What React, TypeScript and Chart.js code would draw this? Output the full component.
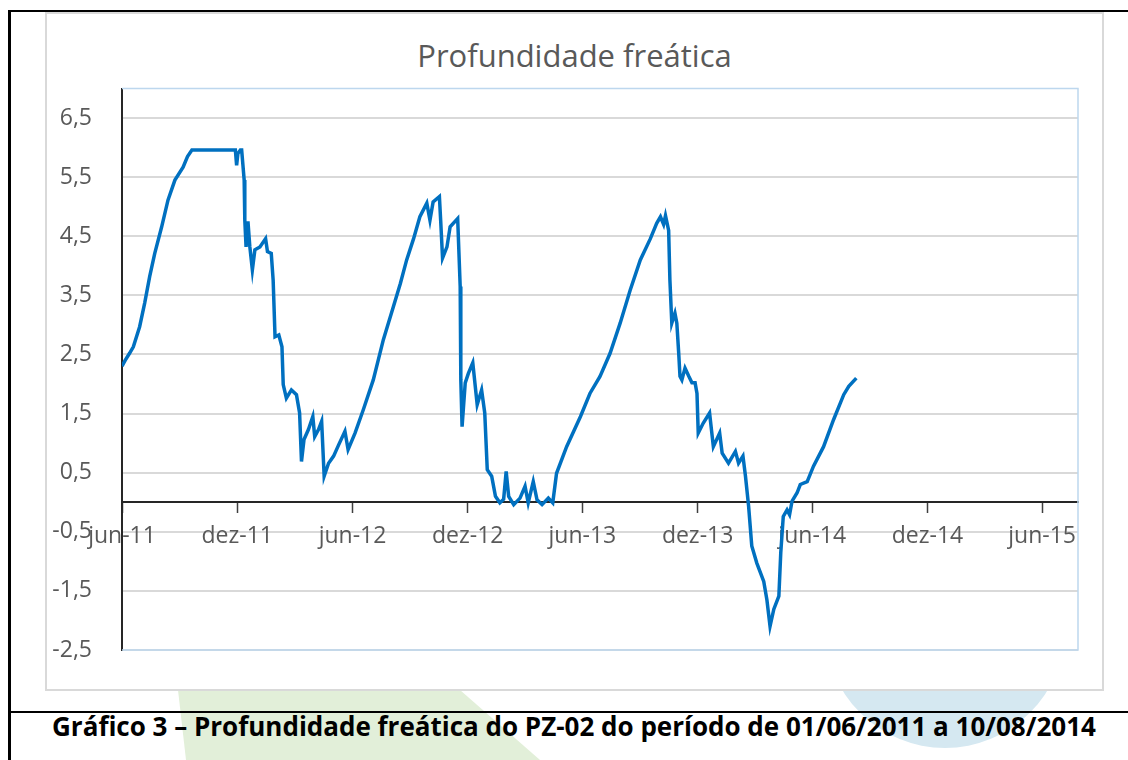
import React, { useEffect, useRef } from 'react';
import { Chart, registerables } from 'chart.js';

Chart.register(...registerables);

// Days counted from 01/06/2011
const startDate = '2011-06-01';
const days = [
  0, 5, 12, 18, 28, 36, 44, 52, 63, 73, 84, 97, 104, 111, 180, 182, 184, 188, 190,
  194, 195, 197, 200, 203, 207, 211, 219, 228, 231, 237, 240, 243, 249, 254, 256,
  261, 269, 277, 282, 285, 289, 296, 303, 306, 312, 317, 321, 328, 336, 344, 354,
  359, 370, 383, 399, 415, 431, 442, 452, 463, 473, 484, 489, 494, 504, 506, 509,
  516, 521, 533, 537, 538, 540, 545, 550, 557, 564, 571, 576, 580, 587, 593, 600,
  606, 610, 614, 622, 632, 640, 645, 653, 659, 667, 677, 684, 690, 706, 728, 743,
  759, 775, 791, 807, 823, 839, 849, 855, 860, 863, 868, 870, 873, 878, 881, 884,
  886, 889, 894, 900, 905, 910, 913, 915, 923, 933, 939, 949, 953, 963, 974, 979,
  986, 990, 995, 1000, 1008, 1019, 1024, 1029, 1035, 1043, 1046, 1050, 1056, 1060,
  1064, 1072, 1077, 1088, 1098, 1114, 1130, 1146, 1154, 1166,
];
const depth = [
  2.3, 2.4, 2.52, 2.63, 2.97, 3.37, 3.82, 4.21, 4.66, 5.11, 5.45, 5.67, 5.85, 5.96, 5.96, 5.7, 5.9, 5.96, 5.96,
  5.45, 4.77, 4.32, 4.75, 4.32, 3.93, 4.27, 4.32, 4.46, 4.24, 4.21, 3.76, 2.8, 2.83, 2.63, 1.99,
  1.76, 1.9, 1.82, 1.51, 0.69, 1.06, 1.23, 1.45, 1.11, 1.23, 1.37, 0.44, 0.66, 0.78, 0.97, 1.2,
  0.89, 1.17, 1.56, 2.07, 2.75, 3.31, 3.7, 4.1, 4.46, 4.83, 5.06, 4.77, 5.08, 5.17, 4.77, 4.13,
  4.32, 4.66, 4.8, 3.65, 2.07, 1.28, 2.02, 2.18, 2.36, 1.65, 1.9, 1.51, 0.55, 0.44, 0.1, -0.01,
  0.05, 0.52, 0.1, -0.04, 0.07, 0.27, -0.01, 0.35, 0.04, -0.04, 0.07, -0.01, 0.49, 0.94, 1.45, 1.84,
  2.13, 2.52, 3.03, 3.59, 4.1, 4.46, 4.72, 4.83, 4.7, 4.85, 4.6, 3.76, 3.03, 3.2, 3.03, 2.52,
  2.13, 2.07, 2.27, 2.13, 2.02, 2.02, 1.84, 1.17, 1.34, 1.51, 0.94, 1.17, 0.83, 0.66, 0.86, 0.66,
  0.78, 0.44, -0.07, -0.74, -1.03, -1.34, -1.65, -2.1, -1.81, -1.59, -0.86, -0.24, -0.13, -0.21,
  0.02, 0.16, 0.3, 0.35, 0.61, 0.94, 1.4, 1.82, 1.96, 2.1,
];

const xTickDates = [
  '2011-06-01', '2011-12-01', '2012-06-01', '2012-12-01', '2013-06-01',
  '2013-12-01', '2014-06-01', '2014-12-01', '2015-06-01',
];
const xTickLabels = [
  'jun-11', 'dez-11', 'jun-12', 'dez-12', 'jun-13', 'dez-13', 'jun-14', 'dez-14', 'jun-15',
];
const xMaxDays = 1518;
const yTicks = [-2.5, -1.5, -0.5, 0.5, 1.5, 2.5, 3.5, 4.5, 5.5, 6.5];
const yMin = -2.5;
const yMax = 7;

const chartTitle = 'Profundidade freática';
const caption = 'Gráfico 3 – Profundidade freática do PZ-02 do período de 01/06/2011 a 10/08/2014';

const dayOf = (s: string) => {
  const [a, b, c] = s.split('-').map(Number);
  const [sa, sb, sc] = startDate.split('-').map(Number);
  return Math.round((Date.UTC(a, b - 1, c) - Date.UTC(sa, sb - 1, sc)) / 86400000);
};
const xTickDays = xTickDates.map(dayOf);

const plotBorder = {
  id: 'plotBorder',
  beforeDatasetsDraw(chart: any) {
    const { ctx, chartArea: a } = chart;
    ctx.save();
    ctx.strokeStyle = '#bdd7ee';
    ctx.lineWidth = 1.5;
    ctx.beginPath();
    ctx.moveTo(a.left, a.top);
    ctx.lineTo(a.right, a.top);
    ctx.lineTo(a.right, a.bottom);
    ctx.lineTo(a.left, a.bottom);
    ctx.stroke();
    ctx.restore();
  },
};

export default function App() {
  const ref = useRef<HTMLCanvasElement | null>(null);

  useEffect(() => {
    if (!ref.current) return;
    const tickFont = { family: "'Open Sans'", size: 23 };
    const chart = new Chart(ref.current, {
      type: 'line',
      data: {
        datasets: [
          {
            data: days.map((d, i) => ({ x: d, y: depth[i] })),
            borderColor: '#0070C0',
            borderWidth: 3.5,
            pointRadius: 0,
            tension: 0,
            fill: false,
          },
        ],
      },
      options: {
        responsive: false,
        animation: false,
        devicePixelRatio: 1,
        layout: { padding: { left: 45, right: 50, top: 88.5, bottom: 110 } },
        plugins: {
          legend: { display: false },
          tooltip: { enabled: false },
          title: { display: false },
        },
        scales: {
          x: {
            type: 'linear',
            min: 0,
            max: xMaxDays,
            position: { y: 0 } as any,
            afterFit(s: any) {
              s.height = 0;
            },
            afterBuildTicks(s: any) {
              s.ticks = xTickDays.map((v) => ({ value: v }));
            },
            ticks: {
              autoSkip: false,
              maxRotation: 0,
              color: '#595959',
              font: tickFont,
              padding: 10.5,
              callback: (v: any) => {
                const i = xTickDays.indexOf(Number(v));
                return i >= 0 ? xTickLabels[i] : '';
              },
            },
            grid: {
              drawOnChartArea: false,
              drawTicks: true,
              tickLength: 10,
              tickColor: '#404040',
              tickWidth: 1.5,
            },
            border: { display: true, color: '#262626', width: 2 },
          },
          y: {
            min: yMin,
            max: yMax,
            afterFit(s: any) {
              s.width = 77;
            },
            afterBuildTicks(s: any) {
              s.ticks = yTicks.map((v) => ({ value: v }));
            },
            ticks: {
              color: '#595959',
              font: tickFont,
              padding: 30,
              callback: (v: any) => String(v).replace('.', ','),
            },
            grid: { color: '#d9d9d9', lineWidth: 2, drawTicks: false },
            border: { display: true, color: '#262626', width: 2 },
          },
        },
      },
      plugins: [plotBorder],
    });
    return () => chart.destroy();
  }, []);

  return (
    <div
      style={{
        position: 'absolute',
        left: 0,
        top: 0,
        width: 1128,
        height: 760,
        overflow: 'hidden',
        background: '#fff',
      }}
    >
      <div
        style={{
          position: 'absolute',
          left: 0,
          top: 0,
          width: 1128,
          height: 760,
          background: '#e2efd9',
          clipPath: 'polygon(178px 690px, 460px 690px, 540px 760px, 186px 760px)',
        }}
      />
      <div
        style={{
          position: 'absolute',
          left: 825,
          top: 508,
          width: 240,
          height: 240,
          borderRadius: '50%',
          background: '#d5e8f1',
        }}
      />
      <div
        style={{
          position: 'absolute',
          left: 45,
          top: 12,
          width: 1059,
          height: 679,
          boxSizing: 'border-box',
          border: '2px solid #d9d9d9',
          background: '#fff',
        }}
      />
      <div style={{ position: 'absolute', left: 8, top: 10, width: 1120, height: 2, background: '#000' }} />
      <div style={{ position: 'absolute', left: 8, top: 10, width: 2.5, height: 750, background: '#000' }} />
      <div style={{ position: 'absolute', left: 8, top: 711, width: 1120, height: 2, background: '#000' }} />
      <div
        style={{
          position: 'absolute',
          left: 0,
          top: 40,
          width: 1149,
          textAlign: 'center',
          whiteSpace: 'nowrap',
          fontFamily: "'Open Sans', sans-serif",
          fontWeight: 400,
          fontSize: 31,
          lineHeight: 1,
          color: '#595959',
        }}
      >
        {chartTitle}
      </div>
      <div
        style={{
          position: 'absolute',
          left: 0,
          top: 712.5,
          width: 1148,
          textAlign: 'center',
          whiteSpace: 'nowrap',
          fontFamily: "'Open Sans', sans-serif",
          fontWeight: 700,
          fontSize: 26,
          lineHeight: 1,
          color: '#000',
        }}
      >
        {caption}
      </div>
      <canvas
        ref={ref}
        width={1128}
        height={760}
        style={{ position: 'absolute', left: 0, top: 0, width: 1128, height: 760 }}
      />
    </div>
  );
}
